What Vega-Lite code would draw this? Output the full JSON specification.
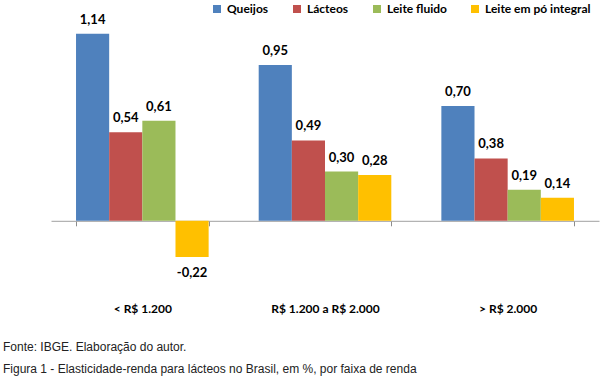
{
  "$schema": "https://vega.github.io/schema/vega-lite/v6.json",
  "autosize": "none",
  "width": 548,
  "height": 246,
  "padding": {"left": 51, "top": 24, "right": 4, "bottom": 110},
  "background": "white",
  "config": {
    "locale": {"number": {"decimal": ",", "thousands": ".", "grouping": [3], "currency": ["R$ ", ""], "minus": "-"}},
    "view": {"stroke": null}
  },
  "title": {
    "text": ["Fonte: IBGE. Elaboração do autor.", "Figura 1 - Elasticidade-renda para lácteos no Brasil, em %, por faixa de renda"],
    "orient": "bottom",
    "anchor": "start",
    "frame": "group",
    "font": "Liberation Sans",
    "fontSize": 12,
    "fontWeight": "normal",
    "color": "#222222",
    "lineHeight": 22,
    "dx": -48,
    "offset": 27
  },
  "data": {
    "values": [
      {"faixa": "< R$ 1.200", "produto": "Queijos", "valor": 1.14},
      {"faixa": "< R$ 1.200", "produto": "Lácteos", "valor": 0.54},
      {"faixa": "< R$ 1.200", "produto": "Leite fluido", "valor": 0.61},
      {"faixa": "< R$ 1.200", "produto": "Leite em pó integral", "valor": -0.22},
      {"faixa": "R$ 1.200  a R$ 2.000", "produto": "Queijos", "valor": 0.95},
      {"faixa": "R$ 1.200  a R$ 2.000", "produto": "Lácteos", "valor": 0.49},
      {"faixa": "R$ 1.200  a R$ 2.000", "produto": "Leite fluido", "valor": 0.30},
      {"faixa": "R$ 1.200  a R$ 2.000", "produto": "Leite em pó integral", "valor": 0.28},
      {"faixa": "> R$ 2.000", "produto": "Queijos", "valor": 0.70},
      {"faixa": "> R$ 2.000", "produto": "Lácteos", "valor": 0.38},
      {"faixa": "> R$ 2.000", "produto": "Leite fluido", "valor": 0.19},
      {"faixa": "> R$ 2.000", "produto": "Leite em pó integral", "valor": 0.14}
    ]
  },
  "encoding": {
    "x": {
      "field": "faixa",
      "type": "nominal",
      "sort": ["< R$ 1.200", "R$ 1.200  a R$ 2.000", "> R$ 2.000"],
      "scale": {"paddingInner": 0.274, "paddingOuter": 0.137},
      "axis": {
        "title": null,
        "orient": "bottom",
        "offset": -49.2,
        "labelPadding": 78,
        "labelAngle": 0,
        "tickSize": 5,
        "tickBand": "extent",
        "domainColor": "#A0A0A0",
        "tickColor": "#8C8C8C",
        "labelFont": "Lato",
        "labelFontWeight": "bold",
        "labelFontSize": 12,
        "labelColor": "#000000"
      }
    },
    "xOffset": {
      "field": "produto",
      "type": "nominal",
      "sort": ["Queijos", "Lácteos", "Leite fluido", "Leite em pó integral"],
      "scale": {"paddingInner": 0, "paddingOuter": 0}
    },
    "y": {
      "field": "valor",
      "type": "quantitative",
      "scale": {"domain": [-0.3, 1.2], "nice": false, "zero": true},
      "axis": null
    }
  },
  "layer": [
    {
      "mark": {"type": "bar"},
      "encoding": {
        "color": {
          "field": "produto",
          "type": "nominal",
          "scale": {
            "domain": ["Queijos", "Lácteos", "Leite fluido", "Leite em pó integral"],
            "range": ["#4F81BD", "#C0504D", "#9BBB59", "#FFC000"]
          },
          "legend": {
            "title": null,
            "orient": "none",
            "direction": "horizontal",
            "legendX": 160,
            "legendY": -21,
            "symbolType": "square",
            "symbolSize": 64,
            "symbolStrokeWidth": 0,
            "labelFont": "Lato",
            "labelFontWeight": "bold",
            "labelFontSize": 12,
            "labelColor": "#000000",
            "labelOffset": 4,
            "columnPadding": 22
          }
        }
      }
    },
    {
      "transform": [{"filter": "datum.valor >= 0"}],
      "mark": {"type": "text", "baseline": "alphabetic", "dy": -10, "font": "Lato", "fontWeight": "bold", "fontSize": 13, "color": "#000000"},
      "encoding": {"text": {"field": "valor", "type": "quantitative", "format": ".2f"}}
    },
    {
      "transform": [{"filter": "datum.valor < 0"}],
      "mark": {"type": "text", "baseline": "alphabetic", "dy": 20, "font": "Lato", "fontWeight": "bold", "fontSize": 13, "color": "#000000"},
      "encoding": {"text": {"field": "valor", "type": "quantitative", "format": ".2f"}}
    }
  ]
}
